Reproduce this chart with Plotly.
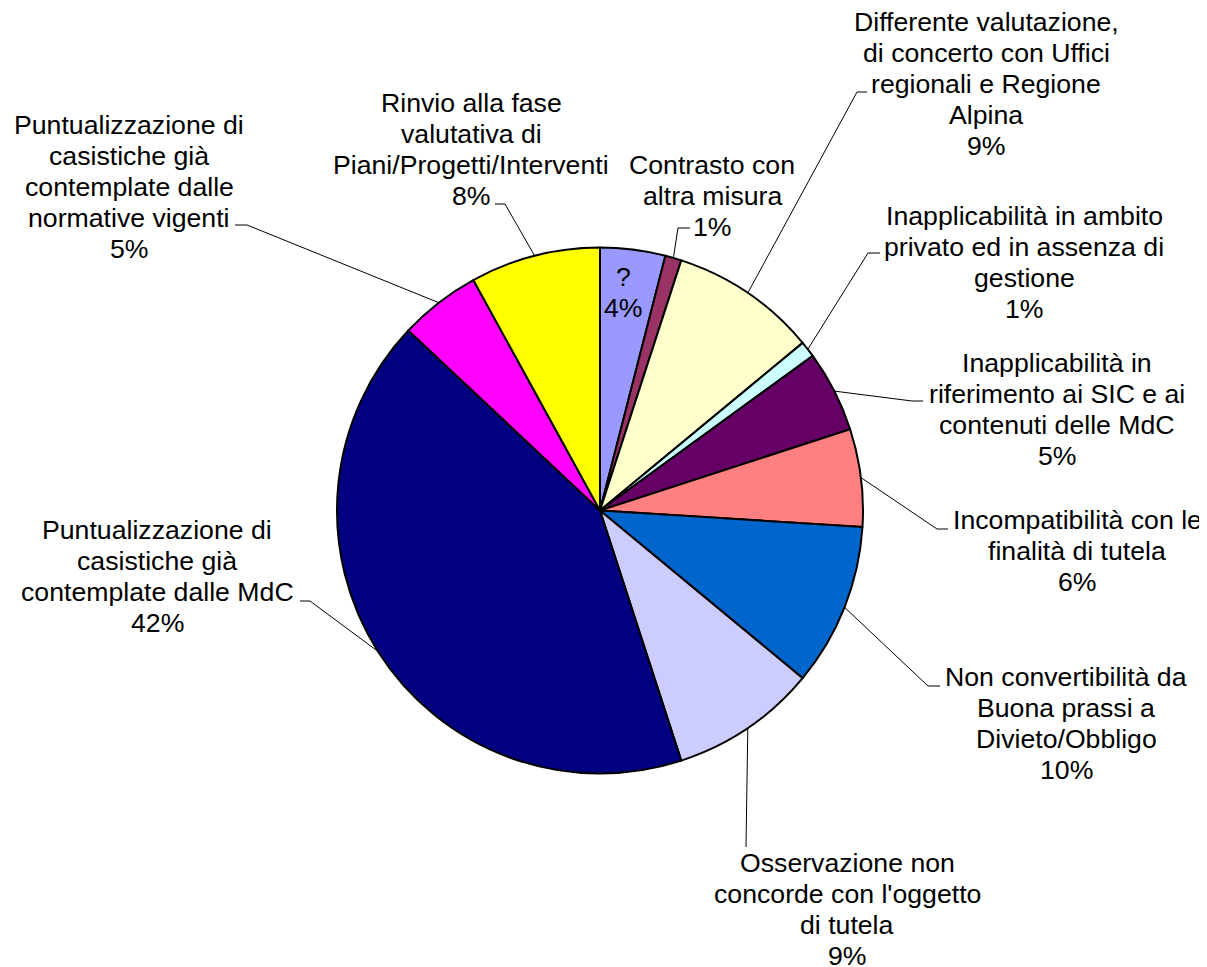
import math
import plotly.graph_objects as go

# ---------------- data ----------------
categories = [
    "?",
    "Contrasto con\naltra misura",
    "Differente valutazione,\ndi concerto con Uffici\nregionali e Regione\nAlpina",
    "Inapplicabilità in ambito\nprivato ed in assenza di\ngestione",
    "Inapplicabilità in\nriferimento ai SIC e ai\ncontenuti delle MdC",
    "Incompatibilità con le\nfinalità di tutela",
    "Non convertibilità da\nBuona prassi a\nDivieto/Obbligo",
    "Osservazione non\nconcorde con l'oggetto\ndi tutela",
    "Puntualizzazione di\ncasistiche già\ncontemplate dalle MdC",
    "Puntualizzazione di\ncasistiche già\ncontemplate dalle\nnormative vigenti",
    "Rinvio alla fase\nvalutativa di\nPiani/Progetti/Interventi",
]
values = [4, 1, 9, 1, 5, 6, 10, 9, 42, 5, 8]

# ---------------- style / layout ----------------
colors = ["#9999FF", "#993366", "#FFFFCC", "#CCFFFF", "#660066", "#FF8080",
          "#0066CC", "#CCCCFF", "#000080", "#FF00FF", "#FFFF00"]

W, H = 1207, 967
OFF = 8  # page body margin of the browser
CX, CY, R = 600, 510.5, 263
FONT = "Arial, Liberation Sans, sans-serif"
FSIZE = 26.67
LINE_H = 31

# per label: centre x, first-line y (px on page), elbow point, end point of leader
label_layout = [
    (623, 277, None, None),
    (712, 165, (678, 228), (690, 228)),
    (986, 22, (857, 92), (867, 92)),
    (1024, 216, (868, 253), (880, 253)),
    (1057, 363, (912, 401), (923, 401)),
    (1077, 520, (937, 529), (948, 529)),
    (1066, 677, (928, 686), (940, 686)),
    (847, 863, (746, 847), (746, 847)),
    (157, 530, (310, 601), (300, 601)),
    (129, 125, (247, 225), (235, 225)),
    (471, 103, (505, 204), (495, 204)),
]


def px(x):
    return (x - OFF) / W


def py(y):
    return 1 - (y - OFF) / H


fig = go.Figure(go.Pie(
    labels=[c.replace("\n", " ") for c in categories],
    values=values,
    sort=False,
    direction="clockwise",
    rotation=0,
    marker=dict(colors=colors, line=dict(color="black", width=2)),
    textinfo="none",
    hoverinfo="label+percent",
    domain=dict(x=[px(CX - R), px(CX + R)], y=[py(CY + R), py(CY - R)]),
    showlegend=False,
))

total = sum(values)
annotations = []
shapes = []
cum = 0.0
for cat, v, (cx, y0, elbow, end) in zip(categories, values, label_layout):
    pct = f"{round(v / total * 100)}%"
    lines = cat.split("\n") + [pct]
    for j, line in enumerate(lines):
        annotations.append(dict(
            x=px(cx), y=py(y0 + j * LINE_H), xref="paper", yref="paper",
            text=line, showarrow=False, xanchor="center", yanchor="middle",
            font=dict(family=FONT, size=FSIZE, color="black"),
        ))
    mid = (cum + v / 2) / total
    cum += v
    if elbow is not None:
        th = 2 * math.pi * mid
        ax = CX + R * math.sin(th)
        ay = CY - R * math.cos(th)
        path = (f"M {px(ax)},{py(ay)} L {px(elbow[0])},{py(elbow[1])} "
                f"L {px(end[0])},{py(end[1])}")
        shapes.append(dict(type="path", xref="paper", yref="paper", path=path,
                           line=dict(color="black", width=1)))

fig.update_layout(
    width=W, height=H,
    margin=dict(l=0, r=0, t=0, b=0),
    paper_bgcolor="white",
    plot_bgcolor="white",
    showlegend=False,
    annotations=annotations,
    shapes=shapes,
    font=dict(family=FONT, size=FSIZE, color="black"),
)

fig.write_html("out.html")
